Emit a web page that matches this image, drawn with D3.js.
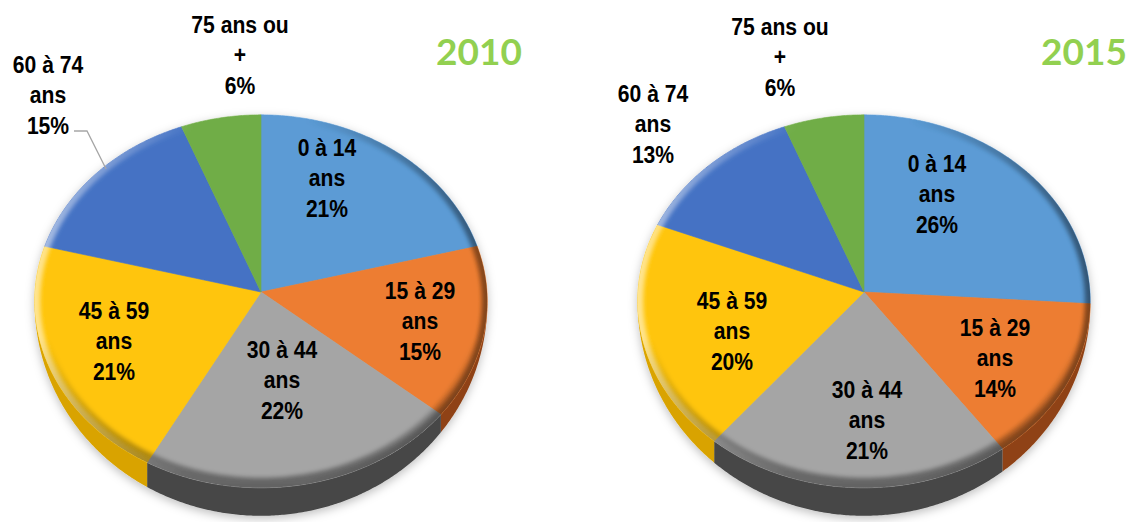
<!DOCTYPE html>
<html><head><meta charset="utf-8">
<script src="https://cdn.jsdelivr.net/npm/d3@7"></script>
<style>html,body{margin:0;padding:0;background:#fff;overflow:hidden}</style>
</head><body><svg id="c" width="1129" height="522"></svg>
<script>
// ---------- data ----------
const categories = ["0 à 14 ans","15 à 29 ans","30 à 44 ans","45 à 59 ans","60 à 74 ans","75 ans ou +"];
const labelLines = [["0 à 14","ans"],["15 à 29","ans"],["30 à 44","ans"],["45 à 59","ans"],["60 à 74","ans"],["75 ans ou","+"]];
const years = ["2010","2015"];
const values2010 = [21,15,22,21,15,6];
const values2015 = [26,14,21,20,13,6];

// ---------- style / layout ----------
const colors = ["#5b9bd5","#ed7d31","#a5a5a5","#ffc50a","#4472c4","#70ad47"];
const sideColors = ["#3f74a8","#8f4215","#464646","#d9a300","#2f5597","#4e7a30"];
const S = 226, V = 186, K = 0.05, DEPTH = 28;
const pies = [
  {year: years[0], values: values2010, cx: 261, cy: 292, titleX: 479,
   labels: [[327,156],[420,299],[282,358],[114,319],[48,73],[240,33]], leader: true},
  {year: years[1], values: values2015, cx: 864, cy: 292, titleX: 1084,
   labels: [[937,172],[995,336],[867,398],[732,309],[653,102],[780,35]], leader: false}
];
const LINE = 30.5;
const labelFont = "'Liberation Sans', Arial, sans-serif";
const NARROW = 0.88;

function proj(cx, cy, t, r) {
  r = r === undefined ? 1 : r;
  const X = r * Math.sin(t), Z = -r * Math.cos(t);
  const w = 1 - K * Z;
  return [cx + S * X / w, cy + V * Z / w];
}

const svg = d3.select("#c");
const defs = svg.append("defs");
const f = defs.append("filter").attr("id","shadow").attr("x","-15%").attr("y","-15%").attr("width","130%").attr("height","135%");
f.append("feDropShadow").attr("dx",0).attr("dy",3).attr("stdDeviation",5).attr("flood-color","#000").attr("flood-opacity",0.25);
defs.append("filter").attr("id","blur").attr("x","-10%").attr("y","-10%").attr("width","120%").attr("height","120%")
  .append("feGaussianBlur").attr("stdDeviation",2.2);
const rg = defs.append("linearGradient").attr("id","rimH").attr("x1","0").attr("x2","1").attr("y1","0").attr("y2","0");
[[0,"#fff",0.55],[0.35,"#fff",0],[0.6,"#000",0],[1,"#000",0.45]].forEach(s=>rg.append("stop").attr("offset",s[0]).attr("stop-color",s[1]).attr("stop-opacity",s[2]));
const rv = defs.append("linearGradient").attr("id","rimV").attr("x1","0").attr("x2","0").attr("y1","0").attr("y2","1");
[[0,"#000",0],[0.6,"#000",0],[1,"#000",0.4]].forEach(s=>rv.append("stop").attr("offset",s[0]).attr("stop-color",s[1]).attr("stop-opacity",s[2]));

const pieGen = d3.pie().sort(null).value(d => d);
const line = d3.line();

pies.forEach((p, pi) => {
  const arcs = pieGen(p.values);
  const P = (t, r) => proj(p.cx, p.cy, t, r);
  const angles = (a0, a1) => {
    const n = Math.max(2, Math.ceil((a1 - a0) / (Math.PI / 360)));
    return d3.range(n + 1).map(i => a0 + (a1 - a0) * i / n);
  };
  const sample = (a0, a1) => angles(a0, a1).map(t => P(t));
  const g = svg.append("g").attr("filter","url(#shadow)");
  // side walls (front half), thickness tapering toward the sides
  arcs.forEach((a, i) => {
    const s0 = Math.max(a.startAngle, Math.PI / 2), s1 = Math.min(a.endAngle, 3 * Math.PI / 2);
    if (s1 <= s0) return;
    const ts = angles(s0, s1);
    const top = ts.map(t => P(t));
    const bot = ts.map(t => { const q = P(t); return [q[0], q[1] + DEPTH * Math.max(0, -Math.cos(t))]; }).reverse();
    g.append("path").attr("d", line(top.concat(bot)) + "Z").attr("fill", sideColors[i]);
  });
  // top faces
  arcs.forEach((a, i) => {
    const pts = [[p.cx, p.cy]].concat(sample(a.startAngle, a.endAngle));
    g.append("path").attr("d", line(pts) + "Z").attr("fill", colors[i])
      .attr("stroke", colors[i]).attr("stroke-width", 0.6).attr("stroke-linejoin","round");
  });
  // bevel rim
  const full = line(sample(0, 2 * Math.PI)) + "Z";
  const cid = "clip" + pi;
  defs.append("clipPath").attr("id", cid).append("path").attr("d", full);
  const rim = g.append("g").attr("clip-path", "url(#" + cid + ")");
  rim.append("path").attr("d", full).attr("fill","none").attr("stroke","url(#rimH)").attr("stroke-width",11).attr("filter","url(#blur)");
  rim.append("path").attr("d", full).attr("fill","none").attr("stroke","url(#rimV)").attr("stroke-width",20).attr("filter","url(#blur)");

  // leader line for outside label
  if (p.leader) {
    const a = arcs[4];
    const end = P((a.startAngle + a.endAngle) / 2 + 0.045, 0.985);
    const [lx, ly] = p.labels[4];
    const yl = ly + 2 * LINE - 3;
    const pts = [[lx + 26, yl], [lx + 39, yl], end];
    svg.append("path").attr("d", line(pts)).attr("fill","none").attr("stroke","#a6a6a6").attr("stroke-width",1.3);
  }

  // labels
  arcs.forEach((a, i) => {
    const [lx, ly] = p.labels[i];
    const t = svg.append("text").attr("transform", `translate(${lx},0) scale(${NARROW},1)`)
      .attr("text-anchor","middle")
      .attr("font-family", labelFont).attr("font-weight","bold").attr("font-size", 24).attr("fill","#000");
    labelLines[i].concat([p.values[i] + "%"]).forEach((s, k) => {
      t.append("tspan").attr("x", 0).attr("y", ly + k * LINE).text(s);
    });
  });

  // title
  svg.append("text").attr("x", p.titleX).attr("y", 65).attr("text-anchor","middle")
    .attr("font-family","Lato, 'Open Sans', sans-serif").attr("font-weight","bold").attr("font-size",37)
    .attr("fill","#92d050").text(p.year);
});
</script>
</body></html>
